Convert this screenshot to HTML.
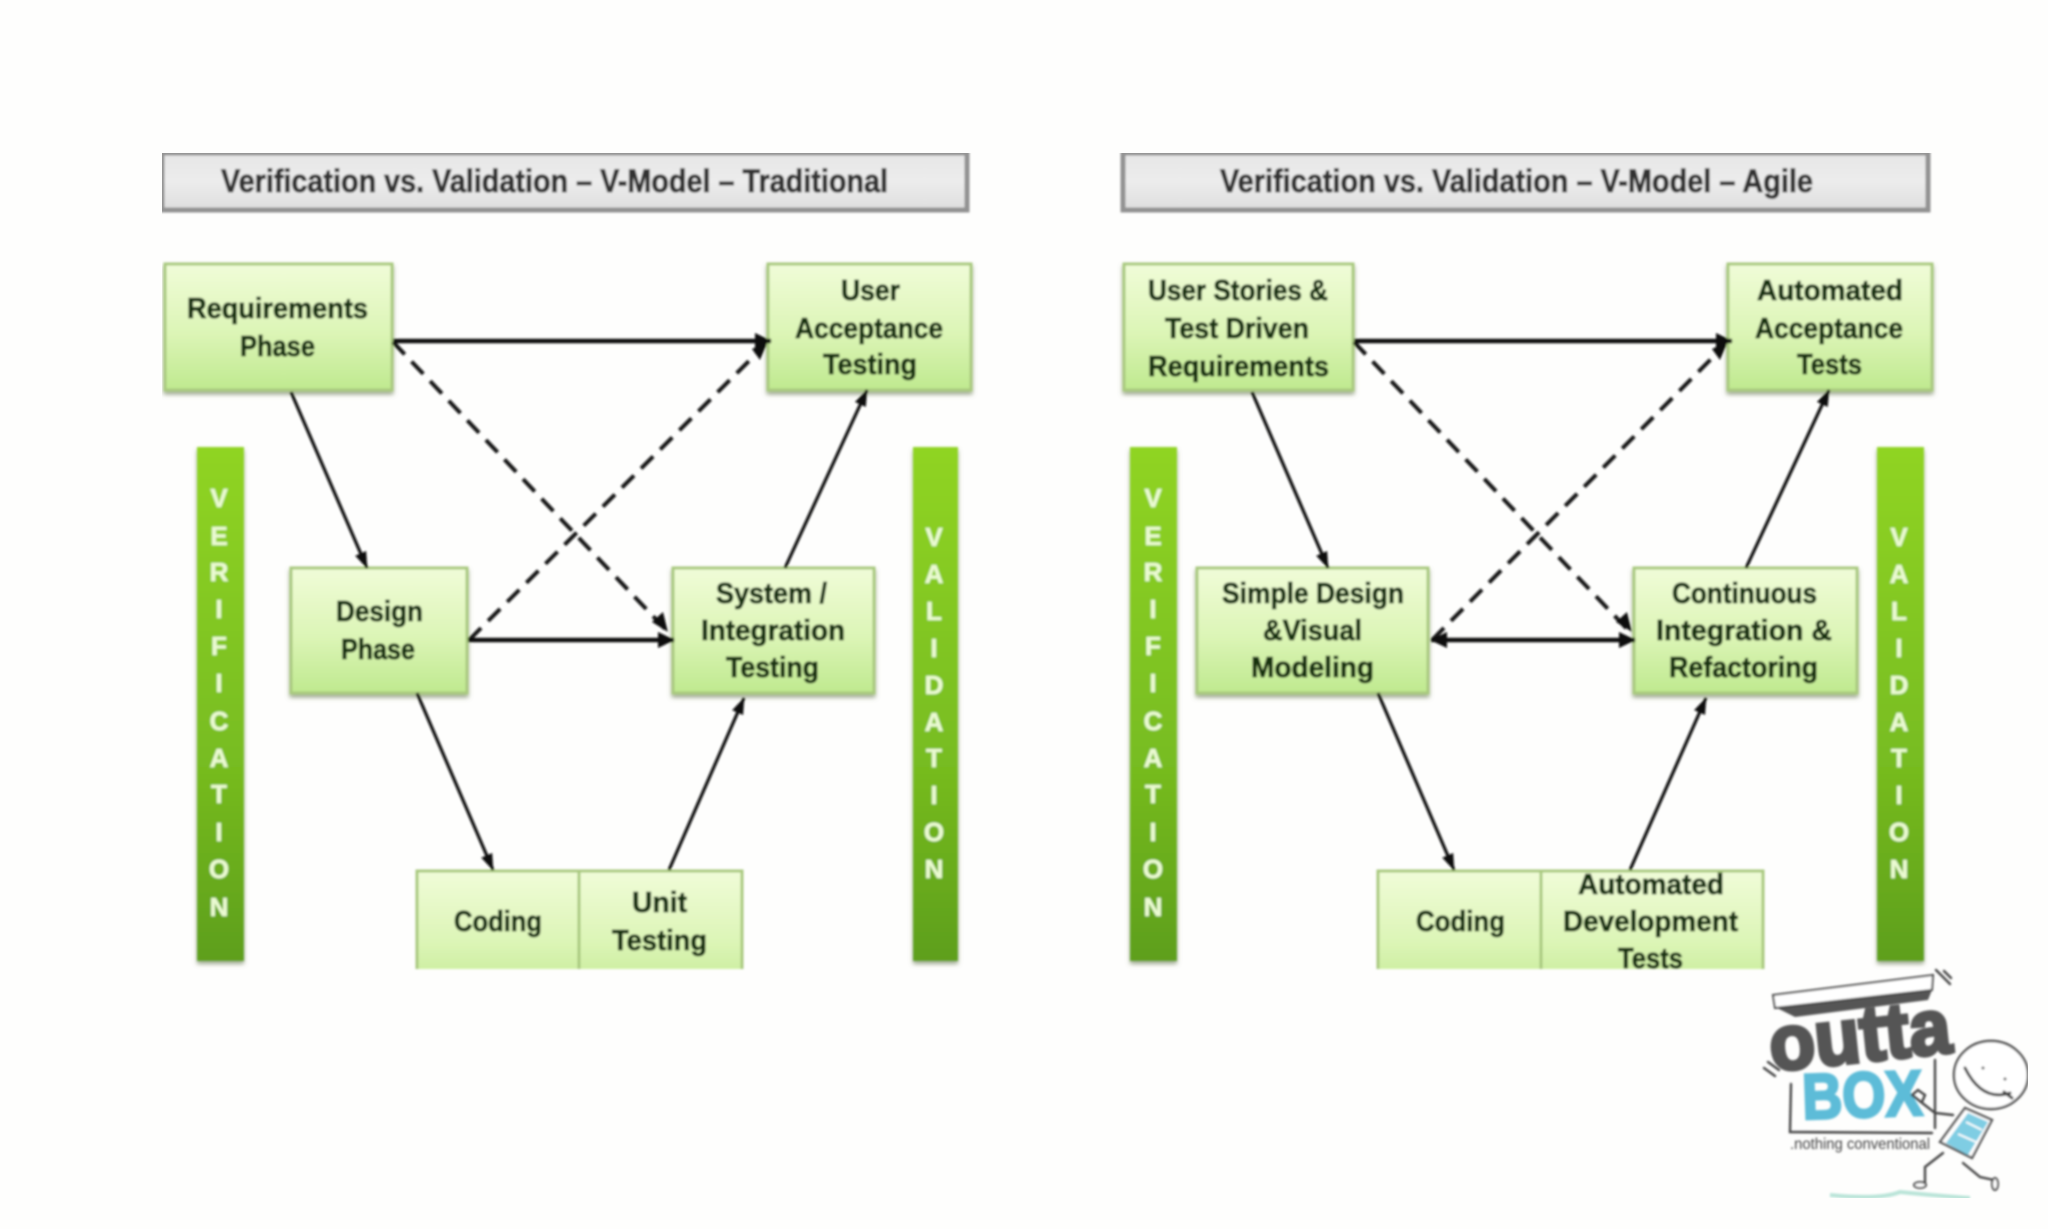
<!DOCTYPE html>
<html>
<head>
<meta charset="utf-8">
<style>
html,body{margin:0;padding:0;background:#fefefd;width:2048px;height:1229px;overflow:hidden}
svg{display:block;position:absolute;left:0;top:0}
text{font-family:"Liberation Sans",sans-serif;font-weight:bold}
.t{fill:#14300c;stroke:#14300c;stroke-width:.8;font-size:29px;text-anchor:start}
.h{fill:#303030;stroke:#303030;stroke-width:.8;font-size:32px}
.l{fill:#eafad2;stroke:#eafad2;stroke-width:.5;font-size:26px;text-anchor:middle}
.b{fill:url(#gb);stroke:#a9c97f;stroke-width:3}
.tb{fill:url(#gt);stroke:#929292;stroke-width:5}
.g{fill:url(#gg)}
.a{stroke:#101010;stroke-width:3.2;fill:none;marker-end:url(#ah)}
.a2{stroke:#101010;stroke-width:4.6;fill:none;marker-end:url(#ah2)}
.d{stroke:#141414;stroke-width:4;fill:none;stroke-dasharray:17 10}
.lg{fill:none;stroke:#444;stroke-width:2.4;stroke-linecap:round}
</style>
</head>
<body>
<svg width="2048" height="1229" viewBox="0 0 2048 1229" xmlns="http://www.w3.org/2000/svg">
<defs>
<linearGradient id="gb" x1="0" y1="0" x2="0" y2="1"><stop offset="0" stop-color="#f0fcd8"/><stop offset="0.55" stop-color="#dcf5b6"/><stop offset="1" stop-color="#bfe98f"/></linearGradient>
<linearGradient id="gt" x1="0" y1="0" x2="0" y2="1"><stop offset="0" stop-color="#e6e6e6"/><stop offset="0.5" stop-color="#ececec"/><stop offset="1" stop-color="#dedede"/></linearGradient>
<linearGradient id="gg" x1="0" y1="0" x2="0" y2="1"><stop offset="0" stop-color="#90d420"/><stop offset="0.6" stop-color="#78bd20"/><stop offset="1" stop-color="#5e9f1b"/></linearGradient>
<filter id="sh" x="-10%" y="-10%" width="120%" height="125%"><feDropShadow dx="0" dy="3" stdDeviation="2.2" flood-color="#7c8a68" flood-opacity="0.75"/></filter>
<filter id="blur" x="0" y="0" width="100%" height="100%"><feGaussianBlur stdDeviation="1.1"/></filter>
<clipPath id="clip"><rect x="0" y="0" width="2048" height="969"/></clipPath>
<marker id="ah" markerUnits="userSpaceOnUse" markerWidth="18" markerHeight="14" refX="16" refY="7" orient="auto"><path d="M0,1 L17,7 L0,13 Z" fill="#101010"/></marker>
<marker id="ah2" markerUnits="userSpaceOnUse" markerWidth="18" markerHeight="18" refX="16" refY="9" orient="auto"><path d="M0,1 L17,9 L0,17 Z" fill="#101010"/></marker>
<marker id="ah2s" markerUnits="userSpaceOnUse" markerWidth="18" markerHeight="18" refX="1" refY="9" orient="auto"><path d="M17,1 L0,9 L17,17 Z" fill="#101010"/></marker>
</defs>

<g filter="url(#blur)">
<!-- Title bars -->
<rect class="tb" x="162" y="153" width="805" height="57"/>
<rect class="tb" x="1123" y="153" width="805" height="57"/>
<text class="h" x="221" y="192" textLength="667" lengthAdjust="spacingAndGlyphs">Verification vs. Validation – V-Model – Traditional</text>
<text class="h" x="1220" y="192" textLength="593" lengthAdjust="spacingAndGlyphs">Verification vs. Validation – V-Model – Agile</text>

<!-- Side bars -->
<g filter="url(#sh)">
<rect class="g" x="197" y="447" width="47" height="514"/>
<rect class="g" x="913" y="447" width="45" height="514"/>
<rect class="g" x="1130" y="447" width="47" height="514"/>
<rect class="g" x="1877" y="447" width="47" height="514"/>
</g>
<text class="l" x="219" y="507">V</text><text class="l" x="219" y="545">E</text><text class="l" x="219" y="581">R</text><text class="l" x="219" y="618">I</text><text class="l" x="219" y="655">F</text><text class="l" x="219" y="692">I</text><text class="l" x="219" y="730">C</text><text class="l" x="219" y="767">A</text><text class="l" x="219" y="803">T</text><text class="l" x="219" y="841">I</text><text class="l" x="219" y="878">O</text><text class="l" x="219" y="916">N</text>
<text class="l" x="934" y="546">V</text><text class="l" x="934" y="583">A</text><text class="l" x="934" y="620">L</text><text class="l" x="934" y="657">I</text><text class="l" x="934" y="694">D</text><text class="l" x="934" y="731">A</text><text class="l" x="934" y="767">T</text><text class="l" x="934" y="804">I</text><text class="l" x="934" y="841">O</text><text class="l" x="934" y="878">N</text>
<text class="l" x="1153" y="507">V</text><text class="l" x="1153" y="545">E</text><text class="l" x="1153" y="581">R</text><text class="l" x="1153" y="618">I</text><text class="l" x="1153" y="655">F</text><text class="l" x="1153" y="692">I</text><text class="l" x="1153" y="730">C</text><text class="l" x="1153" y="767">A</text><text class="l" x="1153" y="803">T</text><text class="l" x="1153" y="841">I</text><text class="l" x="1153" y="878">O</text><text class="l" x="1153" y="916">N</text>
<text class="l" x="1899" y="546">V</text><text class="l" x="1899" y="583">A</text><text class="l" x="1899" y="620">L</text><text class="l" x="1899" y="657">I</text><text class="l" x="1899" y="694">D</text><text class="l" x="1899" y="731">A</text><text class="l" x="1899" y="767">T</text><text class="l" x="1899" y="804">I</text><text class="l" x="1899" y="841">O</text><text class="l" x="1899" y="878">N</text>

<!-- Boxes -->
<g filter="url(#sh)">
<rect class="b" x="165" y="264" width="227" height="126"/>
<rect class="b" x="768" y="264" width="203" height="126"/>
<rect class="b" x="291" y="568" width="176" height="125"/>
<rect class="b" x="673" y="568" width="201" height="125"/>
<rect class="b" x="1124" y="264" width="229" height="126"/>
<rect class="b" x="1728" y="264" width="204" height="126"/>
<rect class="b" x="1197" y="568" width="231" height="125"/>
<rect class="b" x="1634" y="568" width="223" height="125"/>
</g>
<g clip-path="url(#clip)">
<rect class="b" x="417" y="871" width="162" height="130"/>
<rect class="b" x="579" y="871" width="163" height="130"/>
<rect class="b" x="1378" y="871" width="163" height="130"/>
<rect class="b" x="1541" y="871" width="222" height="130"/>
</g>

<!-- Box labels: left -->
<text class="t" x="187" y="318" textLength="181" lengthAdjust="spacingAndGlyphs">Requirements</text>
<text class="t" x="240" y="356" textLength="75" lengthAdjust="spacingAndGlyphs">Phase</text>
<text class="t" x="841" y="300" textLength="59" lengthAdjust="spacingAndGlyphs">User</text>
<text class="t" x="795" y="338" textLength="148" lengthAdjust="spacingAndGlyphs">Acceptance</text>
<text class="t" x="823" y="374" textLength="94" lengthAdjust="spacingAndGlyphs">Testing</text>
<text class="t" x="336" y="621" textLength="87" lengthAdjust="spacingAndGlyphs">Design</text>
<text class="t" x="341" y="659" textLength="74" lengthAdjust="spacingAndGlyphs">Phase</text>
<text class="t" x="716" y="603" textLength="111" lengthAdjust="spacingAndGlyphs">System /</text>
<text class="t" x="701" y="640" textLength="144" lengthAdjust="spacingAndGlyphs">Integration</text>
<text class="t" x="726" y="677" textLength="93" lengthAdjust="spacingAndGlyphs">Testing</text>
<text class="t" x="454" y="931" textLength="88" lengthAdjust="spacingAndGlyphs">Coding</text>
<text class="t" x="632" y="912" textLength="55" lengthAdjust="spacingAndGlyphs">Unit</text>
<text class="t" x="612" y="950" textLength="95" lengthAdjust="spacingAndGlyphs">Testing</text>

<!-- Box labels: right -->
<text class="t" x="1148" y="300" textLength="180" lengthAdjust="spacingAndGlyphs">User Stories &amp;</text>
<text class="t" x="1165" y="338" textLength="144" lengthAdjust="spacingAndGlyphs">Test Driven</text>
<text class="t" x="1148" y="376" textLength="181" lengthAdjust="spacingAndGlyphs">Requirements</text>
<text class="t" x="1757" y="300" textLength="146" lengthAdjust="spacingAndGlyphs">Automated</text>
<text class="t" x="1755" y="338" textLength="148" lengthAdjust="spacingAndGlyphs">Acceptance</text>
<text class="t" x="1797" y="374" textLength="65" lengthAdjust="spacingAndGlyphs">Tests</text>
<text class="t" x="1222" y="603" textLength="182" lengthAdjust="spacingAndGlyphs">Simple Design</text>
<text class="t" x="1263" y="640" textLength="99" lengthAdjust="spacingAndGlyphs">&amp;Visual</text>
<text class="t" x="1251" y="677" textLength="123" lengthAdjust="spacingAndGlyphs">Modeling</text>
<text class="t" x="1672" y="603" textLength="145" lengthAdjust="spacingAndGlyphs">Continuous</text>
<text class="t" x="1656" y="640" textLength="176" lengthAdjust="spacingAndGlyphs">Integration  &amp;</text>
<text class="t" x="1669" y="677" textLength="149" lengthAdjust="spacingAndGlyphs">Refactoring</text>
<text class="t" x="1416" y="931" textLength="89" lengthAdjust="spacingAndGlyphs">Coding</text>
<text class="t" x="1578" y="894" textLength="146" lengthAdjust="spacingAndGlyphs">Automated</text>
<text class="t" x="1563" y="931" textLength="175" lengthAdjust="spacingAndGlyphs">Development</text>
<text class="t" x="1618" y="968" textLength="65" lengthAdjust="spacingAndGlyphs">Tests</text>

<!-- Connectors: left -->
<path class="d" d="M393,342 L668,632"/>
<path class="d" d="M469,640 L765,345"/>
<path class="a2" d="M393,341 L771,341"/>
<path class="a2" d="M468,640 L674,640"/>
<path class="a" d="M291,392 L367,568"/>
<path class="a" d="M417,693 L493,870"/>
<path class="a" d="M669,870 L744,698"/>
<path class="a" d="M785,568 L867,390"/>
<path d="M668,632 L652,622 L663,612 Z" fill="#101010"/>
<path d="M768,341 L752,349 L760,360 Z" fill="#101010"/>

<!-- Connectors: right -->
<path class="d" d="M1354,342 L1630,632"/>
<path class="d" d="M1432,640 L1725,345"/>
<path class="a2" d="M1354,341 L1732,341"/>
<path class="a2" d="M1431,640 L1635,640" style="marker-start:url(#ah2s)"/>
<path class="a" d="M1252,392 L1328,568"/>
<path class="a" d="M1378,693 L1454,870"/>
<path class="a" d="M1630,870 L1706,698"/>
<path class="a" d="M1746,568 L1829,390"/>
<path d="M1632,632 L1616,622 L1627,612 Z" fill="#101010"/>
<path d="M1728,341 L1712,349 L1720,360 Z" fill="#101010"/>

<!-- Logo -->
<path d="M1777,1008 L1932,990 L1928,1000 L1795,1017 Z" fill="#555"/>
<path d="M1773,995 L1933,975 L1932,990 L1775,1008 Z" fill="#fff" stroke="#444" stroke-width="2"/>
<path class="lg" d="M1936,970 L1950,984 M1944,971 L1951,978 M1764,1068 L1775,1076 M1768,1062 L1779,1070"/>
<text x="1772" y="1071" transform="rotate(-6 1772 1071)" textLength="182" lengthAdjust="spacingAndGlyphs" style="font-size:78px;fill:#555;stroke:#555;stroke-width:4">outta</text>
<text x="1803" y="1119" transform="rotate(-2 1803 1119)" textLength="120" lengthAdjust="spacingAndGlyphs" style="font-size:64px;fill:#5dbcd8;stroke:#5dbcd8;stroke-width:3">BOX</text>
<path class="lg" d="M1791,1084 L1790,1132 L1932,1133 M1935,1060 L1935,1128"/>
<text x="1790" y="1149" textLength="140" lengthAdjust="spacingAndGlyphs" style="font-size:16px;font-weight:normal;fill:#444">.nothing conventional</text>
<ellipse cx="1991" cy="1075" rx="37" ry="34" fill="#fff" stroke="#444" stroke-width="2.4"/>
<path class="lg" d="M1965,1068 Q1982,1102 2010,1093 M2004,1092 L2012,1098" style="stroke-width:3"/>
<circle cx="1983" cy="1068" r="1.5" fill="#555"/><circle cx="2005" cy="1079" r="1.5" fill="#555"/>
<path d="M1965,1108 L1992,1120 L1972,1158 L1940,1142 Z" fill="#fff" stroke="#555" stroke-width="2.4"/>
<path d="M1968,1113 L1988,1122 L1968,1155 L1946,1143 Z" fill="#7fcde3"/>
<path d="M1966,1122 L1982,1130 M1958,1134 L1976,1142" stroke="#fff" stroke-width="2" fill="none"/>
<path class="lg" d="M1912,1095 L1935,1113 L1953,1115 M1912,1095 L1918,1090 L1925,1095 L1922,1102"/>
<path class="lg" d="M1943,1153 L1925,1167 L1925,1183 M1963,1163 L1980,1177 L1994,1180"/>
<ellipse cx="1920" cy="1185" rx="6" ry="3" fill="#fff" stroke="#444" stroke-width="2"/>
<ellipse cx="1995" cy="1184" rx="3" ry="6" fill="#fff" stroke="#444" stroke-width="2"/>
<path d="M1830,1195 Q1880,1200 1900,1192 Q1940,1196 1970,1198" fill="none" stroke="#b9e4d8" stroke-width="4"/>
</g>
</svg>
</body>
</html>
